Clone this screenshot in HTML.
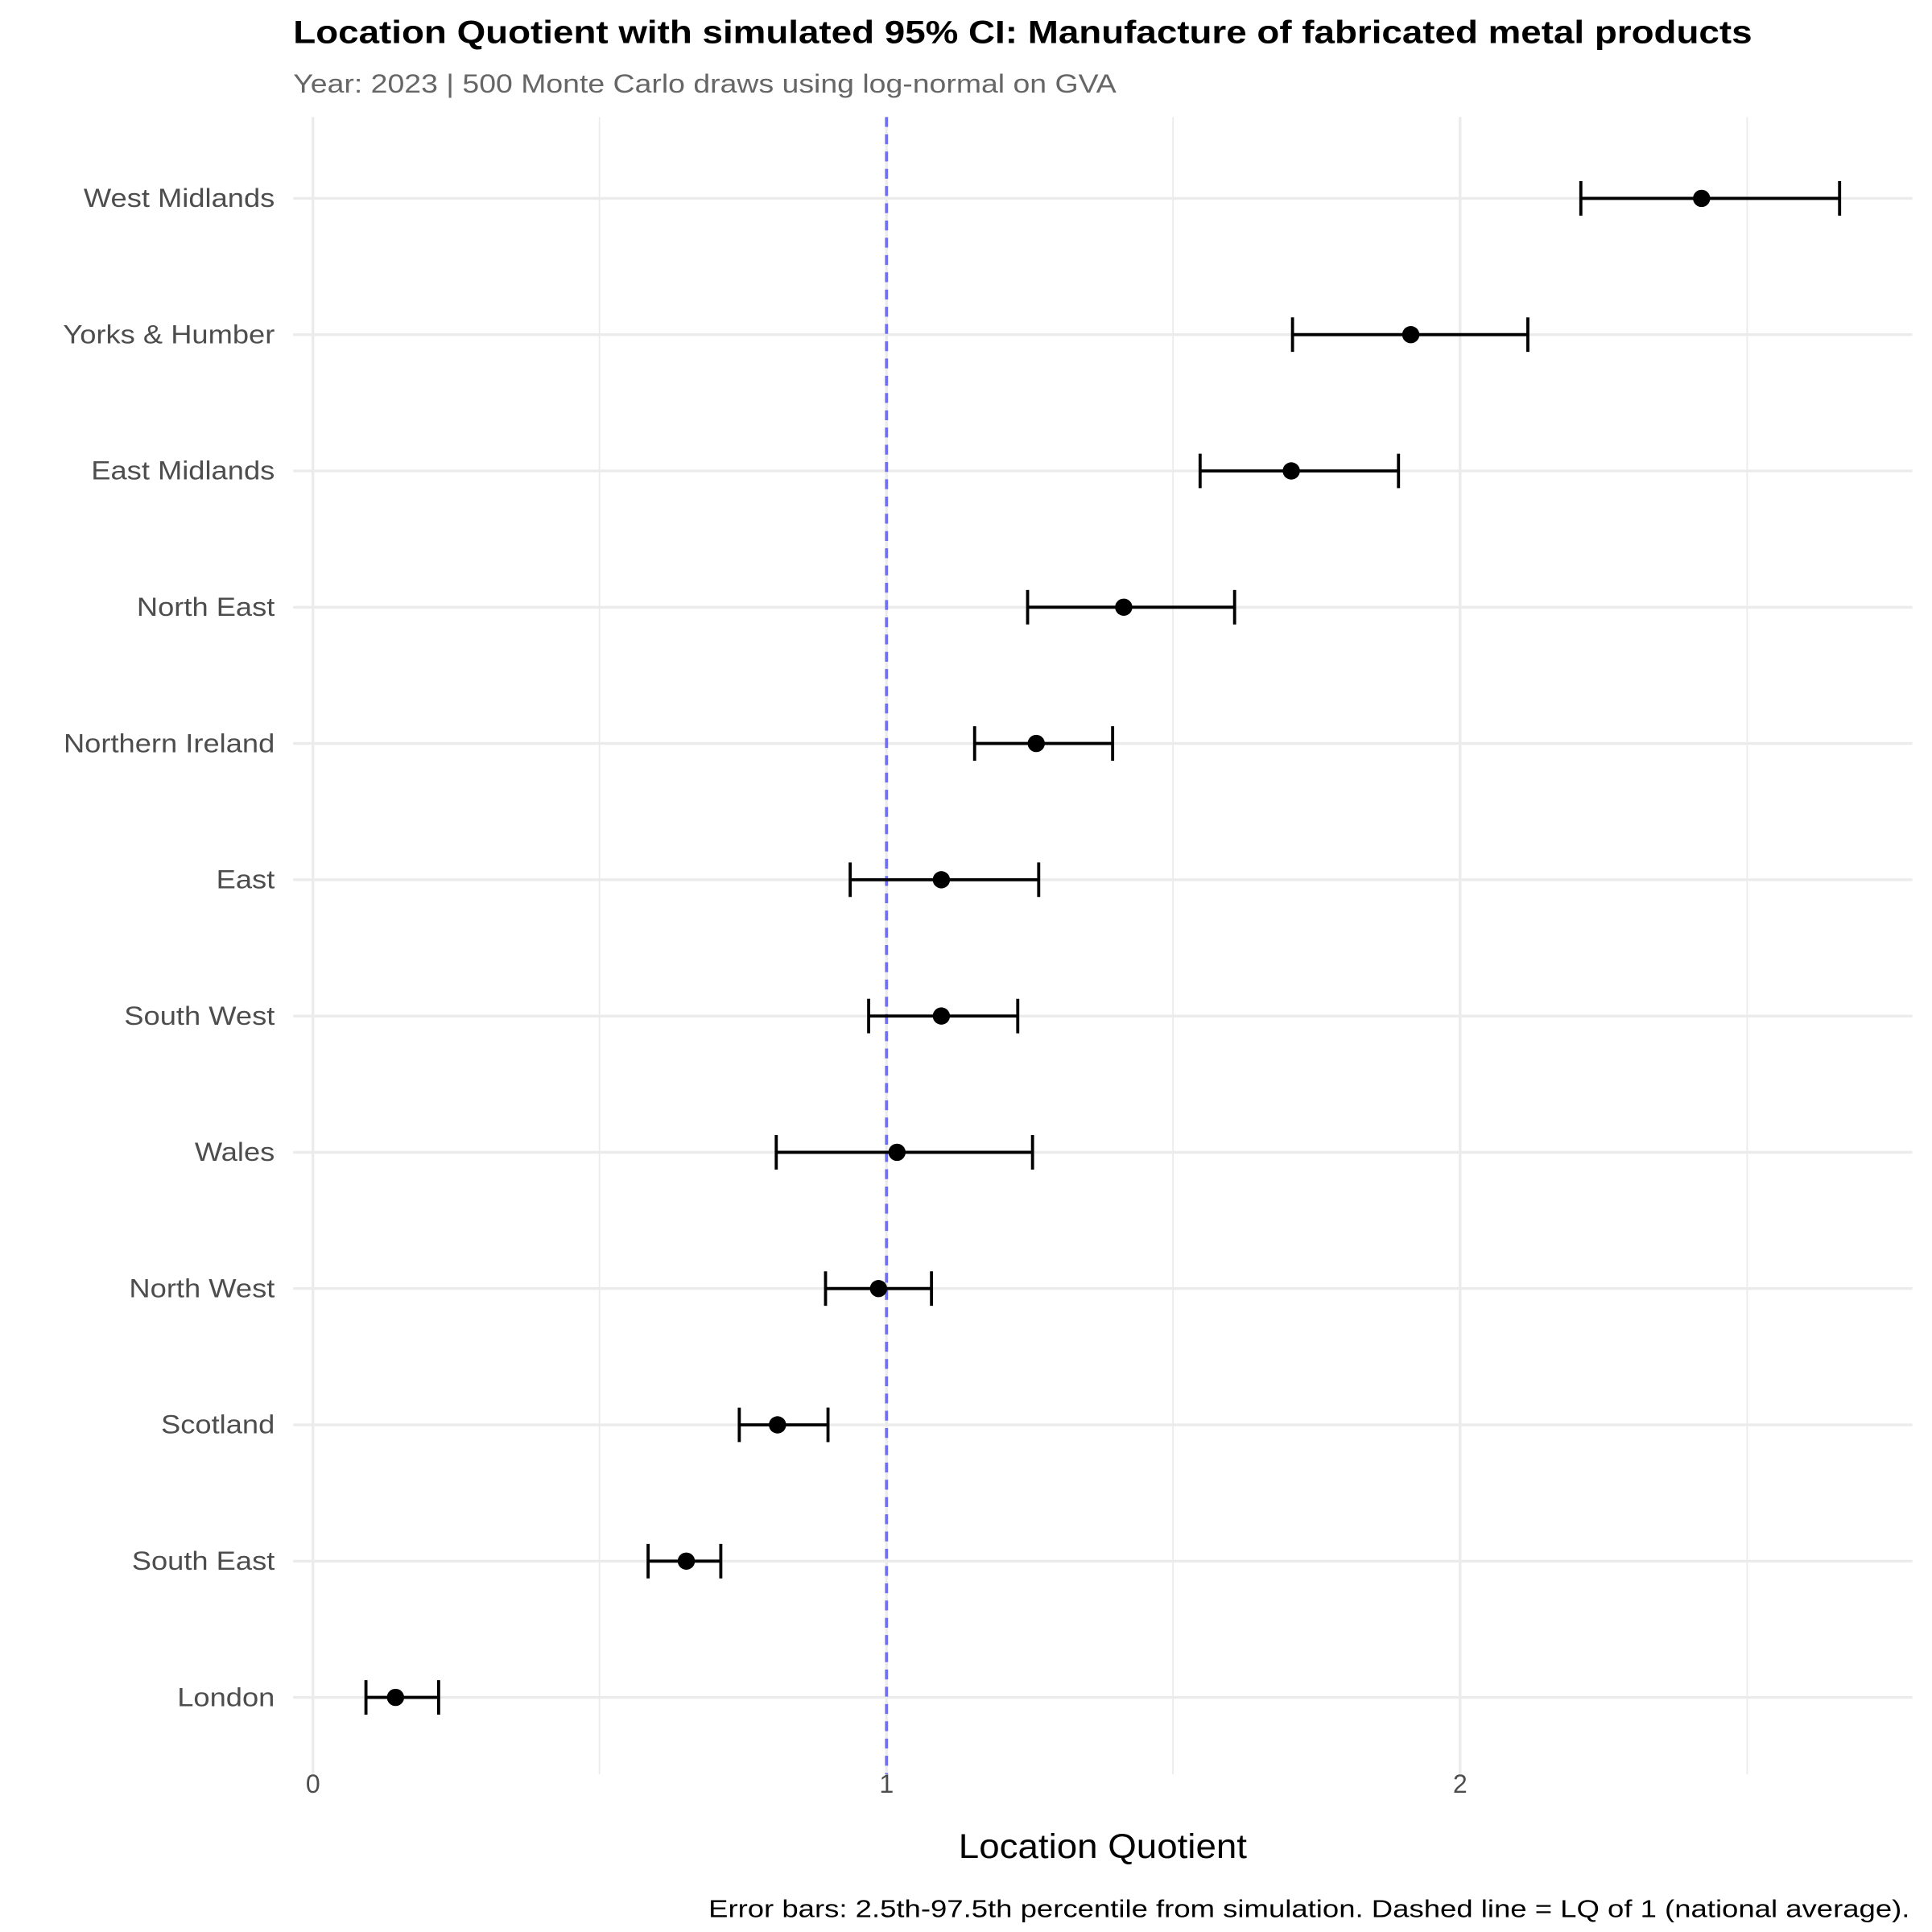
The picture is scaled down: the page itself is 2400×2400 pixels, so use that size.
<!DOCTYPE html>
<html><head><meta charset="utf-8"><style>
html,body{margin:0;padding:0;background:#fff;}
svg{display:block;}
text{font-family:"Liberation Sans",Arial,sans-serif;}
</style></head><body>
<svg width="2400" height="2400" viewBox="0 0 1568 1568" xmlns="http://www.w3.org/2000/svg">
<rect width="1568" height="1568" fill="#fff"/>
<text x="238" y="35" font-size="26" font-weight="bold" fill="#000" textLength="1184" lengthAdjust="spacingAndGlyphs">Location Quotient with simulated 95% CI: Manufacture of fabricated metal products</text>
<text x="238" y="75" font-size="21" fill="#666" textLength="668" lengthAdjust="spacingAndGlyphs">Year: 2023 | 500 Monte Carlo draws using log-normal on GVA</text>
<g stroke="#ebebeb">
<line x1="486.5" y1="95" x2="486.5" y2="1440" stroke-width="1.2"/>
<line x1="952" y1="95" x2="952" y2="1440" stroke-width="1.2"/>
<line x1="1418" y1="95" x2="1418" y2="1440" stroke-width="1.2"/>
<line x1="254" y1="95" x2="254" y2="1440" stroke-width="2.2"/>
<line x1="719.5" y1="95" x2="719.5" y2="1440" stroke-width="2.2"/>
<line x1="1185" y1="95" x2="1185" y2="1440" stroke-width="2.2"/>
</g>
<g id="rows" stroke="#ebebeb" stroke-width="2.2"></g>
<line x1="719.5" y1="95" x2="719.5" y2="1440" stroke="#7070f0" stroke-width="2.5" stroke-dasharray="8,6"/>
<g id="bars" stroke="#000" stroke-width="2.5" fill="#000"></g>
<g id="labels" font-size="21" fill="#4d4d4d" text-anchor="end"></g>
<g font-size="21" fill="#4d4d4d" text-anchor="middle">
<text x="254" y="1455">0</text><text x="719.5" y="1455">1</text><text x="1185" y="1455">2</text>
</g>
<text x="778" y="1508" font-size="28" fill="#000" textLength="234" lengthAdjust="spacingAndGlyphs">Location Quotient</text>
<text x="575" y="1556" font-size="20" fill="#000" textLength="975" lengthAdjust="spacingAndGlyphs">Error bars: 2.5th-97.5th percentile from simulation. Dashed line = LQ of 1 (national average).</text>
</svg>
<script>
const d=[["West Midlands",1283,1381,1493],["Yorks & Humber",1049,1145,1240],["East Midlands",974,1048,1135],["North East",834,912,1002],["Northern Ireland",791,841,903],["East",690,764,843],["South West",705,764,826],["Wales",630,728,838],["North West",670,713,756],["Scotland",600,631,672],["South East",526,557,585],["London",297,321,356]];
const ns="http://www.w3.org/2000/svg";
const R=document.getElementById("rows"),B=document.getElementById("bars"),L=document.getElementById("labels");
function el(p,t,a,txt){const e=document.createElementNS(ns,t);for(const k in a)e.setAttribute(k,a[k]);if(txt)e.textContent=txt;p.appendChild(e);return e;}
d.forEach((r,i)=>{const y=161+i*110.6;
el(R,"line",{x1:238,y1:y,x2:1552,y2:y});
el(B,"line",{x1:r[1],y1:y,x2:r[3],y2:y});
el(B,"line",{x1:r[1],y1:y-14,x2:r[1],y2:y+14});
el(B,"line",{x1:r[3],y1:y-14,x2:r[3],y2:y+14});
el(B,"circle",{cx:r[2],cy:y,r:7,stroke:"none"});
const t=el(L,"text",{x:223,y:y+7},r[0]);
try{const w=t.getComputedTextLength();t.setAttribute("textLength",(w*1.13).toFixed(1));t.setAttribute("lengthAdjust","spacingAndGlyphs");}catch(e){}
});
</script>
</body></html>
